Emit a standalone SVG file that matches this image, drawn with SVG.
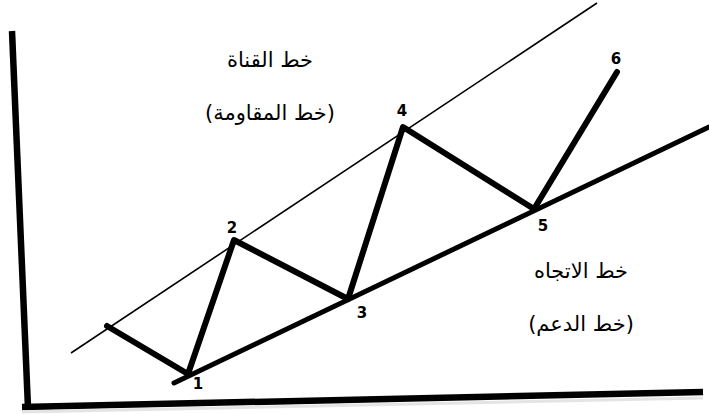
<svg xmlns="http://www.w3.org/2000/svg" width="709" height="414" viewBox="0 0 709 414">
<style>
.axis{stroke:#000;stroke-width:6.5;fill:none;stroke-linecap:butt}
.thin{stroke:#000;stroke-width:1.6;fill:none}
.bold{stroke:#000;stroke-width:6;fill:none;stroke-linecap:round;stroke-linejoin:round}
.trend{stroke:#000;stroke-width:5;fill:none;stroke-linecap:round}
.num{font-family:"DejaVu Sans",sans-serif;font-weight:bold;font-size:15px;fill:#000;text-anchor:middle}
.lbl{font-family:"DejaVu Sans","Noto Sans",sans-serif;font-size:21px;fill:#000;text-anchor:middle;direction:rtl;unicode-bidi:embed}
</style>
<rect width="709" height="414" fill="#fff"/>
<g id="axes">
<line class="axis" x1="12" y1="31" x2="28" y2="408"/>
<line class="axis" x1="22" y1="407" x2="703" y2="392"/>
<line x1="22" y1="412" x2="703" y2="398" stroke="#e4e4e4" stroke-width="3"/>
</g>
<g id="connectors">
<line id="channel-line" class="thin" x1="71" y1="353" x2="597" y2="3"/>
<line id="trend-line" class="trend" x1="174" y1="383" x2="709" y2="127"/>
<polyline id="price-path" class="bold" points="107,326 188,374 234,240 348,299 403,127 534,209 617,72"/>
</g>
<g id="node-1"><text class="num" x="198" y="389">1</text></g>
<g id="node-2"><text class="num" x="232" y="233">2</text></g>
<g id="node-3"><text class="num" x="362" y="318">3</text></g>
<g id="node-4"><text class="num" x="402" y="116">4</text></g>
<g id="node-5"><text class="num" x="543" y="231">5</text></g>
<g id="node-6"><text class="num" x="616" y="64">6</text></g>
<g id="label-channel">
<text class="lbl" x="270" y="67">خط القناة</text>
<text class="lbl" x="270" y="120">(خط المقاومة)</text>
</g>
<g id="label-trend">
<text class="lbl" x="581" y="278">خط الاتجاه</text>
<text class="lbl" x="581" y="331">(خط الدعم)</text>
</g>
</svg>
